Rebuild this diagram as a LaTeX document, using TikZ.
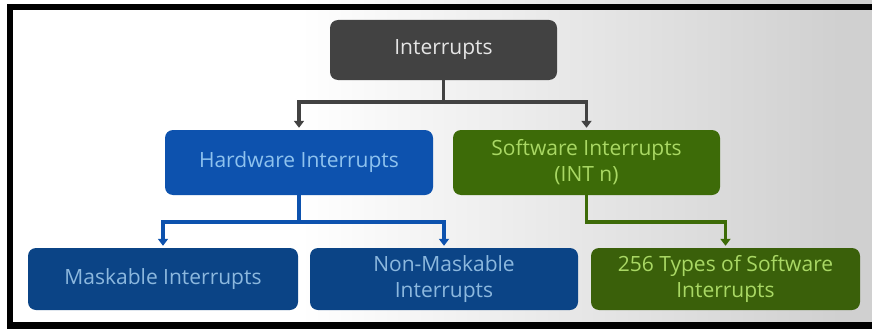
\documentclass[tikz,border=0pt]{standalone}
\usepackage{fontspec}
\setmainfont{Open Sans}
\usetikzlibrary{arrows.meta}
\definecolor{topgray}{HTML}{424242}
\definecolor{hwblue}{HTML}{0D52AE}
\definecolor{swgreen}{HTML}{3D6B08}
\definecolor{lowblue}{HTML}{0B4486}
\definecolor{lowgreen}{HTML}{3A600A}
\definecolor{hwtext}{HTML}{8EC2EE}
\definecolor{swtext}{HTML}{A9D864}
\definecolor{lowtext}{HTML}{8CB8DE}
\definecolor{bgright}{HTML}{D0D0D0}
\tikzset{
  box/.style={rounded corners=8pt, align=center, inner sep=2pt,
    font=\fontsize{21}{26}\selectfont},
  link/.style={line width=3.5pt, -{Triangle[width=10pt,length=7pt]}, shorten >=2pt}
}
\begin{document}
\begin{tikzpicture}[x=1pt,y=-1pt]
\useasboundingbox (0,0) rectangle (872,329);
\fill[white] (-5,-5) rectangle (300,335);
\shade[left color=white, right color=bgright] (300,-5) rectangle (840,335);
\fill[bgright] (840,-5) rectangle (880,335);
\draw[line width=6.5pt] (880,7) -| (10,325.5) -- (880,325.5);
% boxes
\node[box, fill=topgray, text=black!10, minimum width=227pt, minimum height=60pt] (top) at (443.5,50) {Interrupts};
\node[box, fill=hwblue, text=hwtext, minimum width=268pt, minimum height=65pt] (hw) at (299,162.5) {Hardware Interrupts};
\node[box, fill=swgreen, text=swtext, minimum width=267pt, minimum height=65pt] (sw) at (586.5,162.5) {Software Interrupts\\(INT n)};
\node[box, fill=lowblue, text=lowtext, minimum width=270pt, minimum height=62pt] (mask) at (163,279) {Maskable Interrupts};
\node[box, fill=lowblue, text=lowtext, minimum width=268pt, minimum height=62pt] (nonmask) at (444,279) {Non-Maskable\\Interrupts};
\node[box, fill=lowgreen, text=swtext, minimum width=269pt, minimum height=62pt] (types) at (725.5,279) {256 Types of Software\\Interrupts};
% connectors
\draw[link, topgray] (top.south) -- ++(0,22) -| (hw.north);
\draw[link, topgray] (top.south) -- ++(0,22) -| (sw.north);
\draw[link, hwblue] (hw.south) -- ++(0,27) -| (mask.north);
\draw[link, hwblue] (hw.south) -- ++(0,27) -| (nonmask.north);
\draw[link, swgreen] (sw.south) -- ++(0,27) -| (types.north);
\end{tikzpicture}
\end{document}
